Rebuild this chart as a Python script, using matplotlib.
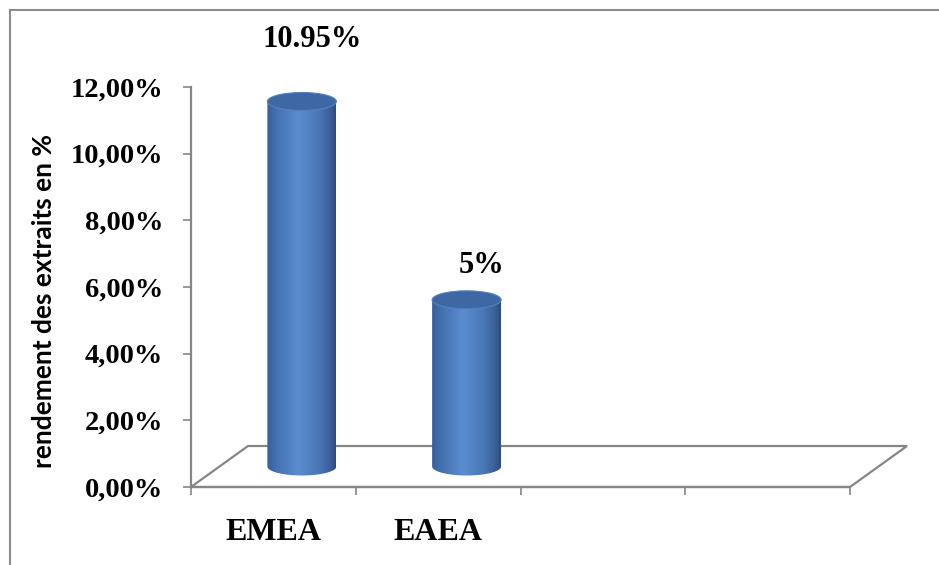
import numpy as np
import matplotlib
matplotlib.use("Agg")
import matplotlib.pyplot as plt
from matplotlib.patches import Ellipse, Polygon, PathPatch
from matplotlib.path import Path
from matplotlib.colors import LinearSegmentedColormap
from matplotlib.lines import Line2D

# data
categories = ["EMEA", "EAEA", "", ""]
values = [10.95, 5.0]
value_labels = ["10.95%", "5%"]
yticks = [0, 2, 4, 6, 8, 10, 12]
ytick_labels = ["0,00%", "2,00%", "4,00%", "6,00%", "8,00%", "10,00%", "12,00%"]

W, H = 939, 565
fig = plt.figure(figsize=(W / 100, H / 100), dpi=100)
fig.patch.set_facecolor("white")

# plot area in pixels (front plane)
ax = fig.add_axes([191 / W, (H - 487) / H, 659 / W, 400 / H])
ncat = len(categories)
px_x = 659 / ncat          # pixels per category
px_y = 400 / 12            # pixels per percent

# 3D depth of the floor
depth_dx = 57 / px_x
depth_dy = 41 / px_y

gray = "#868686"
serif = "Liberation Serif"

# floor
floor = Polygon([(0, 0), (ncat, 0), (ncat + depth_dx, depth_dy), (depth_dx, depth_dy)],
                closed=True, facecolor="none", edgecolor=gray, lw=1.6, clip_on=False, zorder=1)
ax.add_patch(floor)

# cylinders
cmap = LinearSegmentedColormap.from_list(
    "cyl", [(0.0, "#35609c"), (0.15, "#4672b2"), (0.45, "#5a8dd0"),
            (0.75, "#4a78b6"), (0.92, "#395f98"), (1.0, "#2b4c80")])
grad = np.linspace(0, 1, 256).reshape(1, -1)

cyl_w = 69 / px_x
ell_h = 18 / px_y
for i, v in enumerate(values):
    cx = i + 0.5 + depth_dx / 2
    base = depth_dy / 2
    top = base + v
    xl, xr = cx - cyl_w / 2, cx + cyl_w / 2
    t = np.linspace(np.pi, 2 * np.pi, 60)
    arc = np.column_stack([cx + cyl_w / 2 * np.cos(t), base + ell_h / 2 * np.sin(t)])
    verts = np.vstack([[xl, top], arc, [xr, top], [xl, top]])
    body = Path(verts, closed=True)
    im = ax.imshow(grad, cmap=cmap, aspect="auto", extent=[xl, xr, base - ell_h, top],
                   origin="lower", zorder=3, interpolation="bilinear")
    im.set_clip_path(PathPatch(body, transform=ax.transData))
    ax.add_patch(Ellipse((cx, top), cyl_w, ell_h, facecolor="#3d68a4",
                         edgecolor="#5480bf", lw=0.8, zorder=4, clip_on=False))

# data labels
label_offsets = [(10, 62), (15, 34)]
for i, v in enumerate(values):
    cx = i + 0.5 + depth_dx / 2
    ax.annotate(value_labels[i], (cx, v + depth_dy / 2), xytext=label_offsets[i],
                textcoords="offset pixels", ha="center", va="center",
                fontsize=22, fontweight="bold", family=serif, annotation_clip=False)

ax.set_xlim(0, ncat)
ax.set_ylim(0, 12)
ax.patch.set_visible(False)

for s in ["top", "right"]:
    ax.spines[s].set_visible(False)
for s in ["left", "bottom"]:
    ax.spines[s].set_color(gray)
    ax.spines[s].set_linewidth(1.6)

ax.set_yticks(yticks)
ax.set_yticklabels(ytick_labels, fontsize=20.5, fontweight="bold", family=serif)
ax.tick_params(axis="y", direction="out", length=6, width=1.2, color=gray, pad=14)

ax.set_xticks(np.arange(ncat + 1))
ax.set_xticklabels([])
ax.set_xticks(np.arange(ncat) + 0.5, minor=True)
ax.set_xticklabels(categories, minor=True, fontsize=23, fontweight="bold", family=serif)
ax.tick_params(axis="x", which="major", direction="out", length=6, width=1.2, color=gray)
ax.tick_params(axis="x", which="minor", length=0, pad=22)

ax.set_ylabel("rendement des extraits en %", fontsize=19, fontweight="bold", family="Lato")
ax.yaxis.set_label_coords(-0.205, 0.465)

# outer chart border (top and left)
fig.add_artist(Line2D([10 / W, 1], [1 - 10 / H, 1 - 10 / H], color="#8c8c8c", lw=1.5))
fig.add_artist(Line2D([10 / W, 10 / W], [0, 1 - 10 / H], color="#8c8c8c", lw=1.5))

fig.savefig("out.png", dpi=100)
